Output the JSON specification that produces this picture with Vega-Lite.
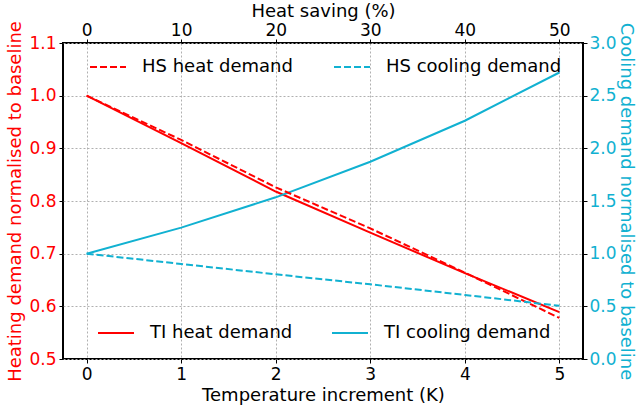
{
  "$schema": "https://vega.github.io/schema/vega-lite/v6.json",
  "width": 520,
  "height": 316,
  "autosize": "none",
  "padding": {"left": 63, "top": 43, "right": 54, "bottom": 48},
  "config": {
    "font": "DejaVu Sans",
    "view": {"stroke": "black", "strokeWidth": 2},
    "axis": {
      "labelFontSize": 17,
      "titleFontSize": 18,
      "titleFontWeight": "normal",
      "labelColor": "black",
      "titleColor": "black",
      "domain": false,
      "tickColor": "black",
      "tickSize": 4,
      "tickWidth": 1,
      "labelPadding": 3,
      "gridColor": "#b0b0b0",
      "gridDash": [2, 2],
      "gridWidth": 1
    },
    "legend": {
      "labelFontSize": 18,
      "labelColor": "black",
      "labelLimit": 400,
      "symbolType": "stroke",
      "symbolSize": 1296,
      "symbolStrokeWidth": 2,
      "labelOffset": 15,
      "columnPadding": 35,
      "padding": 0,
      "direction": "horizontal",
      "orient": "none"
    }
  },
  "layer": [
    {
      "layer": [
        {
          "data": {"values": [
            {"temp": 0, "value": 1.0},
            {"temp": 1, "value": 0.91},
            {"temp": 2, "value": 0.818},
            {"temp": 3, "value": 0.74},
            {"temp": 4, "value": 0.663},
            {"temp": 5, "value": 0.589}
          ]},
          "mark": {"type": "line", "strokeWidth": 2},
          "encoding": {
            "x": {"field": "temp", "type": "quantitative",
              "scale": {"domain": [-0.25, 5.25], "nice": false, "zero": false},
              "axis": {"orient": "bottom", "title": "Temperature increment (K)", "values": [0, 1, 2, 3, 4, 5], "format": "d", "grid": true, "labelPadding": 3, "titlePadding": 4}},
            "y": {"field": "value", "type": "quantitative",
              "scale": {"domain": [0.5, 1.1], "nice": false, "zero": false},
              "axis": {"orient": "left", "title": "Heating demand normalised to baseline", "titleColor": "#ff0000", "labelColor": "#ff0000", "values": [0.5, 0.6, 0.7, 0.8, 0.9, 1.0, 1.1], "format": ".1f", "grid": true, "titlePadding": 4}},
            "color": {"datum": "TI heat demand", "type": "nominal",
              "scale": {"domain": ["TI heat demand", "TI cooling demand"], "range": ["#ff0000", "#11b1d1"]},
              "legend": {"title": null, "legendX": 34, "legendY": 271, "symbolDash": [], "columnPadding": 35}}
          }
        },
        {
          "data": {"values": [
            {"temp": 0, "value": 1.0},
            {"temp": 1, "value": 1.247},
            {"temp": 2, "value": 1.535},
            {"temp": 3, "value": 1.873},
            {"temp": 4, "value": 2.262},
            {"temp": 5, "value": 2.72}
          ]},
          "mark": {"type": "line", "strokeWidth": 2},
          "encoding": {
            "x": {"field": "temp", "type": "quantitative"},
            "y": {"field": "value", "type": "quantitative",
              "scale": {"domain": [0, 3], "nice": false, "zero": false},
              "axis": {"orient": "right", "title": "Cooling demand normalised to baseline", "titleColor": "#11b1d1", "labelColor": "#11b1d1", "values": [0, 0.5, 1, 1.5, 2, 2.5, 3], "format": ".1f", "grid": false, "labelPadding": 2, "titlePadding": 0}},
            "color": {"datum": "TI cooling demand", "type": "nominal"}
          }
        }
      ],
      "resolve": {"scale": {"y": "independent"}}
    },
    {
      "layer": [
        {
          "data": {"values": [
            {"saving": 0, "value": 1.0},
            {"saving": 10, "value": 0.916},
            {"saving": 20, "value": 0.826},
            {"saving": 30, "value": 0.748},
            {"saving": 40, "value": 0.664},
            {"saving": 50, "value": 0.578}
          ]},
          "mark": {"type": "line", "strokeWidth": 2, "strokeDash": [7, 3]},
          "encoding": {
            "x": {"field": "saving", "type": "quantitative",
              "scale": {"domain": [-2.5, 52.5], "nice": false, "zero": false},
              "axis": {"orient": "top", "title": "Heat saving (%)", "values": [0, 10, 20, 30, 40, 50], "format": "d", "grid": false, "labelPadding": 0, "titlePadding": 1}},
            "y": {"field": "value", "type": "quantitative",
              "scale": {"domain": [0.5, 1.1], "nice": false, "zero": false},
              "axis": null},
            "color": {"datum": "HS heat demand", "type": "nominal",
              "scale": {"domain": ["HS heat demand", "HS cooling demand"], "range": ["#ff0000", "#11b1d1"]},
              "legend": {"title": null, "legendX": 26, "legendY": 5, "symbolDash": [7, 3], "columnPadding": 37}}
          }
        },
        {
          "data": {"values": [
            {"saving": 0, "value": 1.0},
            {"saving": 10, "value": 0.902},
            {"saving": 20, "value": 0.804},
            {"saving": 30, "value": 0.709},
            {"saving": 40, "value": 0.608},
            {"saving": 50, "value": 0.505}
          ]},
          "mark": {"type": "line", "strokeWidth": 2, "strokeDash": [7, 3]},
          "encoding": {
            "x": {"field": "saving", "type": "quantitative"},
            "y": {"field": "value", "type": "quantitative",
              "scale": {"domain": [0, 3], "nice": false, "zero": false},
              "axis": null},
            "color": {"datum": "HS cooling demand", "type": "nominal"}
          }
        }
      ],
      "resolve": {"scale": {"y": "independent"}}
    }
  ],
  "resolve": {"scale": {"x": "independent", "y": "independent", "color": "independent"}}
}
